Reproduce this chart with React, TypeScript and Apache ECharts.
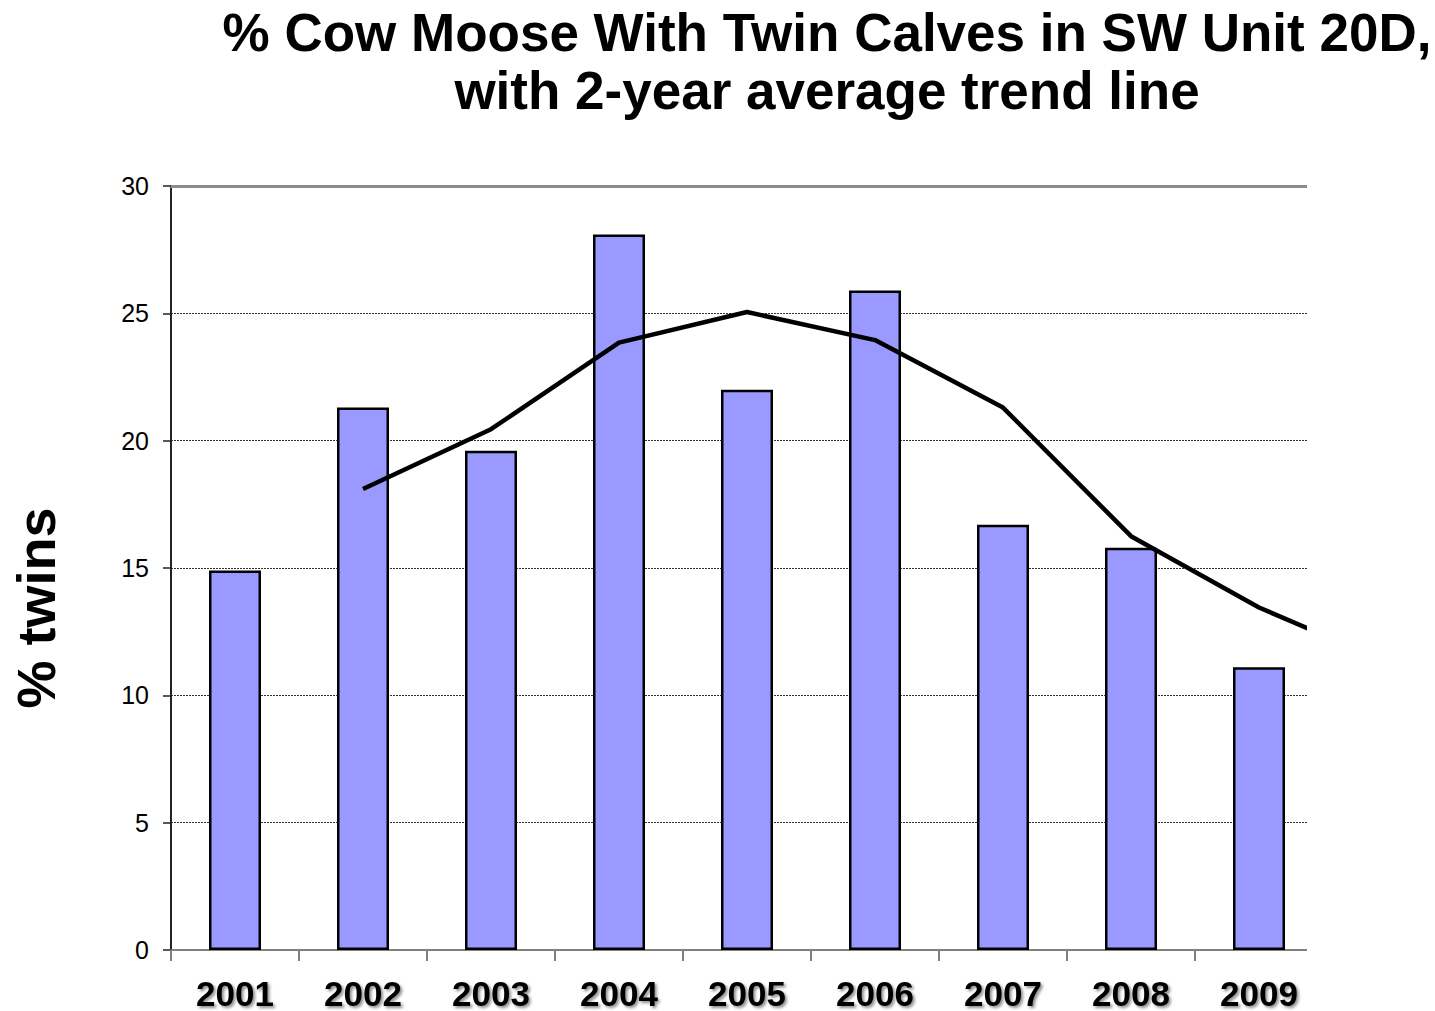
import React, { useEffect, useRef } from "react";
import * as echarts from "echarts";

const years = ["2001", "2002", "2003", "2004", "2005", "2006", "2007", "2008", "2009", ""];
const twinPct = [14.9, 21.3, 19.6, 28.1, 22.0, 25.9, 16.7, 15.8, 11.1, "-"];
const trendAvg = ["-", 18.1, 20.45, 23.85, 25.05, 23.95, 21.3, 16.25, 13.45, 11.3];
const yTicks = [0, 5, 10, 15, 20, 25, 30];

const FONT = "'Liberation Sans', Arial, sans-serif";

export default function App() {
  const ref = useRef<HTMLDivElement>(null);
  useEffect(() => {
    const chart = echarts.init(ref.current!, null, { renderer: "svg" });
    chart.setOption({
      animation: false,
      backgroundColor: "#ffffff",
      textStyle: { fontFamily: FONT },
      title: {
        text: "% Cow Moose With Twin Calves in SW Unit 20D,\nwith 2-year average trend line",
        left: 822,
        top: -2,
        textAlign: "center",
        textStyle: { fontFamily: FONT, fontSize: 53, fontWeight: "bold", color: "#000", lineHeight: 58 },
      },
      grid: { left: 171, top: 186, bottom: 61, right: 29 },
      xAxis: [
        {
          type: "category",
          data: years,
          boundaryGap: true,
          axisLine: { lineStyle: { color: "#808080", width: 2 } },
          axisTick: { show: true, length: 11, lineStyle: { color: "#808080", width: 2 } },
          axisLabel: {
            interval: 0,
            margin: 30,
            fontFamily: FONT,
            fontSize: 35,
            lineHeight: 26,
            fontWeight: "bold",
            color: "#000",
            textShadowColor: "rgba(0,0,0,0.45)",
            textShadowBlur: 3,
            textShadowOffsetX: 2,
            textShadowOffsetY: 2,
          },
          splitLine: { show: false },
        },
        {
          type: "category",
          data: years,
          position: "top",
          axisLine: { lineStyle: { color: "#8c8c8c", width: 3 } },
          axisTick: { show: false },
          axisLabel: { show: false },
        },
      ],
      yAxis: {
        type: "value",
        min: yTicks[0],
        max: yTicks[yTicks.length - 1],
        interval: 5,
        axisLine: { show: true, lineStyle: { color: "#222", width: 2 } },
        axisTick: { show: true, length: 8, lineStyle: { color: "#222", width: 1.5 } },
        axisLabel: { margin: 22, fontFamily: FONT, fontSize: 25, color: "#000" },
        splitLine: { show: true, lineStyle: { type: [2, 1], color: "#333", width: 1 } },
      },
      series: [
        {
          type: "bar",
          data: twinPct,
          barWidth: 52,
          itemStyle: { color: "#9999ff", borderColor: "#000", borderWidth: 2.5 },
          z: 2,
        },
        {
          type: "line",
          data: trendAvg,
          showSymbol: false,
          symbol: "none",
          lineStyle: { color: "#000", width: 4.5 },
          z: 3,
        },
      ],
      graphic: [
        {
          type: "rect",
          shape: { x: 1307, y: 170, width: 200, height: 800 },
          style: { fill: "#ffffff" },
          z: 100,
        },
        {
          type: "text",
          x: 36,
          y: 608,
          rotation: Math.PI / 2,
          style: {
            text: "% twins",
            fontFamily: FONT,
            fontSize: 54,
            fontWeight: "bold",
            fill: "#000",
            textAlign: "center",
            textVerticalAlign: "middle",
          },
          z: 100,
        },
      ],
    });
    return () => chart.dispose();
  }, []);
  return (
    <div
      style={{
        position: "absolute",
        left: 0,
        top: 0,
        width: 1435,
        height: 1011,
        overflow: "hidden",
        background: "#fff",
      }}
    >
      <div ref={ref} style={{ position: "absolute", left: 0, top: 0, width: 1480, height: 1011 }} />
    </div>
  );
}
